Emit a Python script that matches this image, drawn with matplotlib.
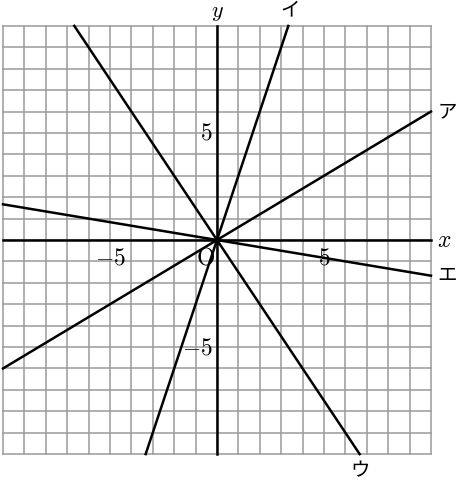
import numpy as np
import matplotlib
matplotlib.use("Agg")
import matplotlib.pyplot as plt

plt.rcParams["mathtext.fontset"] = "cm"

# line labels and slopes (y = m x)
names = ["ア", "イ", "ウ", "エ"]
slopes = [3 / 5, 3, -3 / 2, -1 / 6]
lim = 10
tick_vals = [-5, 5]

fig = plt.figure(figsize=(4.62, 4.8), dpi=100)
ax = fig.add_axes([0, 0, 1, 1])
ax.set_xlim(-10.14, 11.45)
ax.set_ylim(-11.21, 11.21)
ax.axis("off")

# grid
for k in range(-lim, lim + 1):
    ax.plot([k, k], [-lim, lim], color="#9a9a9a", lw=1.1, zorder=1)
    ax.plot([-lim, lim], [k, k], color="#9a9a9a", lw=1.1, zorder=1)

# axes
ax.plot([-lim, lim], [0, 0], color="black", lw=1.8, zorder=2)
ax.plot([0, 0], [-lim, lim], color="black", lw=1.8, zorder=2)

fs = 17
jp = ["Noto Sans CJK JP", "DejaVu Sans"]
ax.text(10.3, 0, "$x$", fontsize=fs, va="center", ha="left")
ax.text(0, 10.62, "$y$", fontsize=16, va="center", ha="center")
ax.text(-0.1, -0.25, r"$\mathrm{O}$", fontsize=fs, va="top", ha="right")

for v in tick_vals:
    lab = "$%d$" % v
    ax.text(v, -0.25, lab, fontsize=fs, va="top", ha="center")
    ax.text(-0.2, v, lab, fontsize=fs, va="center", ha="right")

# lines through the origin
for name, m in zip(names, slopes):
    xe = min(lim, lim / abs(m))
    xs = np.array([-xe, xe])
    ys = m * xs
    ax.plot(xs, ys, color="black", lw=1.8, zorder=3)
    ex, ey = xs[1], ys[1]
    if xe < lim:
        # leaves the box at top or bottom
        if ey < 0:
            ax.text(ex, ey - 0.3, name, fontsize=14, family=jp, va="top", ha="center")
        else:
            ax.text(ex + 0.1, ey + 0.25, name, fontsize=14, family=jp, va="bottom", ha="center")
    else:
        ax.text(ex + 0.3, ey, name, fontsize=14, family=jp, va="center", ha="left")

fig.savefig("out.png", dpi=100)
